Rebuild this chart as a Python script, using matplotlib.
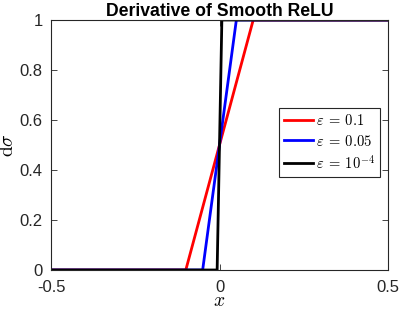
import matplotlib
matplotlib.use("Agg")
import matplotlib.pyplot as plt

plt.rcParams['font.family'] = ['Liberation Sans', 'DejaVu Sans']
plt.rcParams['mathtext.fontset'] = 'cm'

labels = [r'$\varepsilon\:=\:0.1$', r'$\varepsilon\:=\:0.05$', r'$\varepsilon\:=\:10^{-4}$']
colors = ['red', 'blue', 'black']
x_red = [-0.5, -0.1, 0.1, 0.5]
y_red = [0, 0, 1, 1]
x_blue = [-0.5, -0.05, 0.05, 0.5]
y_blue = [0, 0, 1, 1]
x_black = [-0.5, -0.007, 0.0, 0.007, 0.5]
y_black = [0, 0, 0.5, 1, 1]
xticks = [-0.5, 0, 0.5]
xticklabels = ['-0.5', '0', '0.5']
yticks = [0, 0.2, 0.4, 0.6, 0.8, 1]
yticklabels = ['0', '0.2', '0.4', '0.6', '0.8', '1']

fig = plt.figure(figsize=(3.99, 3.12), dpi=100)
ax = fig.add_axes([51/399, 42/312, 337/399, 250/312])
for xs, ys, c, l in [(x_red, y_red, colors[0], labels[0]),
                     (x_blue, y_blue, colors[1], labels[1]),
                     (x_black, y_black, colors[2], labels[2])]:
    ax.plot(xs, ys, color=c, lw=2, label=l)
ax.set_xlim(-0.5, 0.5)
ax.set_ylim(0, 1)
ax.set_xticks(xticks)
ax.set_xticklabels(xticklabels)
ax.set_yticks(yticks)
ax.set_yticklabels(yticklabels)
ax.tick_params(direction='in', length=4, width=0.6, labelsize=12, top=True, right=True,
               colors='#262626')
ax.tick_params(axis='y', pad=6)
ax.tick_params(axis='x', pad=7)
for s in ax.spines.values():
    s.set_color('#262626')
    s.set_linewidth(0.8)
ax.set_xlabel(r'$x$', fontsize=14, labelpad=-1)
ax.set_ylabel(r'$\mathrm{d}\sigma$', fontsize=14, labelpad=2)
ax.set_title('Derivative of Smooth ReLU', fontsize=12.7, fontweight='bold', pad=3)
leg = ax.legend(loc='center right', bbox_to_anchor=(0.977, 0.51), fontsize=10.5, fancybox=False,
                edgecolor='#262626', framealpha=1, handlelength=2.0, handletextpad=0.2,
                borderpad=0.35, labelspacing=0.35, borderaxespad=0)
leg.get_frame().set_linewidth(0.8)
fig.savefig('out.png', dpi=100)
